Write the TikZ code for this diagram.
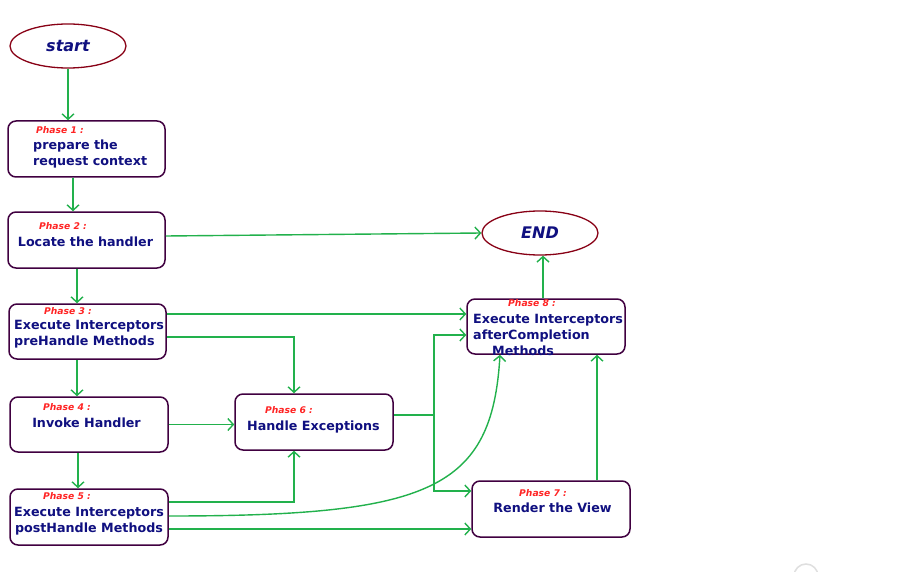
\documentclass[tikz,border=0pt]{standalone}
\usepackage{fontspec}
\setmainfont{DejaVu Sans}
\usetikzlibrary{arrows.meta,shapes.geometric,positioning,calc}
\definecolor{flowgreen}{RGB}{34,177,76}
\definecolor{textblue}{RGB}{16,16,128}
\definecolor{phasered}{RGB}{255,36,36}
\definecolor{framepurple}{RGB}{64,0,64}
\definecolor{ellred}{RGB}{136,0,21}
\tikzset{
    flow/.style={-{Straight Barb[length=5.5pt, width=12pt]}, line width=1.4pt, flowgreen},
    phase/.style={draw=framepurple, line width=1.5pt, rounded corners=8pt, minimum width=157pt, minimum height=56pt, inner sep=0pt},
    terminal/.style={draw=ellred, ellipse, line width=1.3pt, minimum width=116pt, minimum height=44pt, inner sep=0pt, font=\fontsize{16}{18}\selectfont\bfseries\itshape, text=textblue},
    tag/.style={font=\fontsize{9.2}{10}\selectfont\bfseries\itshape, text=phasered, inner sep=0pt, anchor=west},
    txt/.style={font=\fontsize{12.7}{16}\selectfont\bfseries, text=textblue, inner sep=0pt}
}
\begin{document}
\begin{tikzpicture}[x=1pt, y=-1pt]
    \useasboundingbox[fill=white] (0,0) rectangle (923,572);

    \node[terminal] (start) at (68,46) {start};
    \node[terminal] (end) at (540,233) {END};

    \node[phase] (p1) at (86.5,149) {};
    \node[phase] (p2) at (86.5,240) {};
    \node[phase, minimum height=55pt] (p3) at (87.5,331.5) {};
    \node[phase, minimum width=158pt, minimum height=55pt] (p4) at (89,424.5) {};
    \node[phase, minimum width=158pt] (p5) at (89,517) {};
    \node[phase, minimum width=158pt] (p6) at (314,422) {};
    \node[phase, minimum width=158pt] (p7) at (551,509) {};
    \node[phase, minimum width=158pt, minimum height=55pt] (p8) at (546,326.5) {};

    % phase tags
    \node[tag] (t1) at (36,130) {Phase 1 :};
    \node[tag] (t2) at (39,226) {Phase 2 :};
    \node[tag] (t3) at (44,311) {Phase 3 :};
    \node[tag] (t4) at (43,407) {Phase 4 :};
    \node[tag] (t5) at (43,496) {Phase 5 :};
    \node[tag] (t6) at (265,410) {Phase 6 :};
    \node[tag] (t7) at (519,493) {Phase 7 :};
    \node[tag] (t8) at (508,303) {Phase 8 :};

    \node[txt, align=left, anchor=west] (x1) at (33,154) {prepare the\\request context};
    \node[txt] (x2) at (85.5,242) {Locate the handler};
    \node[txt, align=left, anchor=west] (x3) at (14,334) {Execute Interceptors\\preHandle Methods};
    \node[txt] (x4) at (86.5,423) {Invoke Handler};
    \node[txt, align=center] (x5) at (89,521) {Execute Interceptors\\postHandle Methods};
    \node[txt] (x6) at (313.5,427) {Handle Exceptions};
    \node[txt] (x7) at (552.5,508) {Render the View};
    \node[txt, align=left, anchor=west] (x8) at (473,335) {Execute Interceptors\\afterCompletion\\\hspace{19pt}Methods};

    % main line
    \draw[flow] (start.south) -- (start.south |- p1.north);
    \draw[flow] (73,0 |- p1.south) -- (73,0 |- p2.north);
    \draw[flow] (77,0 |- p2.south) -- (77,0 |- p3.north);
    \draw[flow] (77,0 |- p3.south) -- (77,0 |- p4.north);
    \draw[flow] (78,0 |- p4.south) -- (78,0 |- p5.north);

    \draw[flow] (p2.east |- 0,236) -- (end.west);
    \draw[flow] (p3.east |- 0,314) -- (p8.west |- 0,314);
    \draw[flow] (p3.east |- 0,337) -| (294,0 |- p6.north);
    \draw[flow] (p4.east) -- (p6.west |- p4.east);
    \draw[flow] (p5.east |- 0,502) -| (294,0 |- p6.south);
    \draw[flow] (p5.east |- 0,516) .. controls (430,516) and (492,490) .. (500,0 |- p8.south);
    \draw[flow] (p5.east |- 0,529) -- (p7.west |- 0,529);

    % exceptions fork
    \coordinate (fork) at (434,415);
    \draw[flow, -] (p6.east |- fork) -- (fork);
    \draw[flow] (fork) |- (p8.west |- 0,335);
    \draw[flow] (fork) |- (p7.west |- 0,491);

    \draw[flow] (597,0 |- p7.north) -- (597,0 |- p8.south);
    \draw[flow] (543,0 |- p8.north) -- (543,0 |- end.south);

    \draw[gray!25, line width=1.5pt] (806,576) circle (12);
\end{tikzpicture}
\end{document}
